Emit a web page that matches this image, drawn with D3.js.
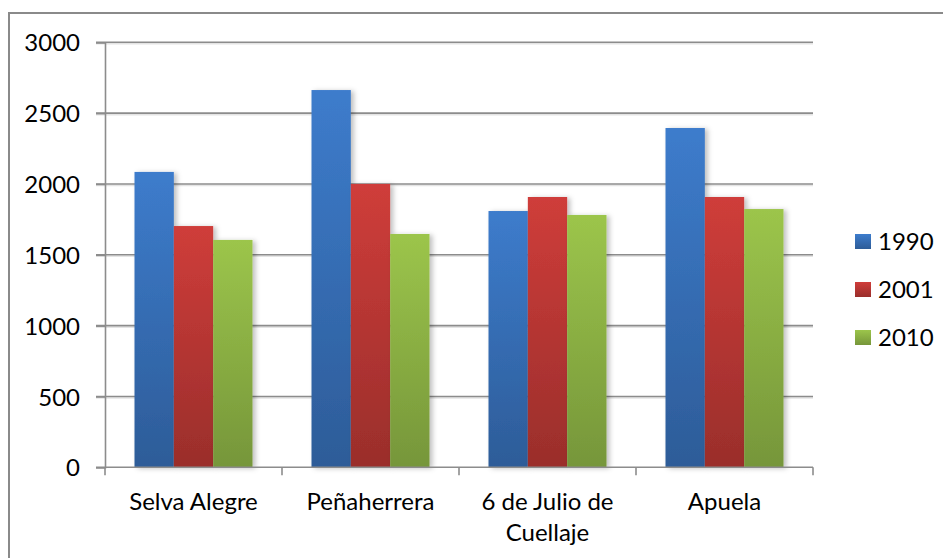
<!DOCTYPE html>
<html><head><meta charset="utf-8">
<script src="https://cdn.jsdelivr.net/npm/d3@7"></script>
<style>body{margin:0;background:#fff}svg{display:block}</style>
</head><body>
<svg id="c" width="943" height="558"></svg>
<script>
const categories = [["Selva Alegre"], ["Peñaherrera"], ["6 de Julio de", "Cuellaje"], ["Apuela"]];
const seriesNames = ["1990", "2001", "2010"];
const v1990 = [2085, 2663, 1809, 2395];
const v2001 = [1703, 2000, 1908, 1908];
const v2010 = [1605, 1647, 1781, 1823];
const yTicks = [0, 500, 1000, 1500, 2000, 2500, 3000];

const series = [v1990, v2001, v2010];
const colors = [
  {top: "#3d7ccc", bot: "#2d5c98"},
  {top: "#cf3d3a", bot: "#9a2e2b"},
  {top: "#9cc54b", bot: "#76963a"}
];
const font = "Lato, 'Open Sans', sans-serif";

const svg = d3.select("#c");
const defs = svg.append("defs");
colors.forEach((c, i) => {
  const g = defs.append("linearGradient").attr("id", "g" + i)
    .attr("x1", 0).attr("y1", 0).attr("x2", 0).attr("y2", 1);
  g.append("stop").attr("offset", "0%").attr("stop-color", c.top);
  g.append("stop").attr("offset", "100%").attr("stop-color", c.bot);
});
const f = defs.append("filter").attr("id", "sh").attr("x", "-20%").attr("y", "-10%").attr("width", "150%").attr("height", "130%");
f.append("feDropShadow").attr("dx", 3).attr("dy", 1).attr("stdDeviation", 2.5).attr("flood-color", "#000").attr("flood-opacity", 0.25);

// outer frame
svg.append("rect").attr("x", 9).attr("y", 13).attr("width", 960).attr("height", 600)
  .attr("fill", "none").attr("stroke", "#8a8a8a").attr("stroke-width", 2);

const x0 = 105, x1 = 813, yTop = 42.3, yBot = 467.3;
const x = d3.scaleBand().domain(d3.range(categories.length)).range([x0, x1])
  .paddingInner(1/3).paddingOuter(1/6);
const xs = d3.scaleBand().domain(d3.range(series.length)).range([0, x.bandwidth()]);
const y = d3.scaleLinear().domain([0, 3000]).range([yBot, yTop]);

// gridlines
const grid = svg.append("g");
yTicks.filter(t => t > 0).forEach(t => {
  grid.append("line").attr("x1", x0 - 9).attr("x2", x1).attr("y1", y(t) + 1.5).attr("y2", y(t) + 1.5)
    .attr("stroke", "#e4e4e4").attr("stroke-width", 1.5);
  grid.append("line").attr("x1", x0 - 9).attr("x2", x1).attr("y1", y(t)).attr("y2", y(t))
    .attr("stroke", "#8c8c8c").attr("stroke-width", 1.6);
});

// bars
const bars = svg.append("g");
series.forEach((s, si) => {
  bars.selectAll(null).data(s).enter().append("rect")
    .attr("x", (d, i) => x(i) + xs(si))
    .attr("y", d => y(d))
    .attr("width", xs.bandwidth())
    .attr("height", d => y(0) - y(d))
    .attr("fill", "url(#g" + si + ")")
    .attr("filter", "url(#sh)");
});

// y axis
const yAxis = svg.append("g").attr("transform", `translate(${x0},0)`)
  .call(d3.axisLeft(y).tickValues(yTicks).tickSize(9).tickPadding(16).tickFormat(d3.format("d")));
yAxis.select(".domain").attr("stroke", "#8c8c8c").attr("stroke-width", 1.6);
yAxis.selectAll(".tick line").attr("stroke", "#8c8c8c").attr("stroke-width", 1.6);
yAxis.selectAll(".tick text").attr("font-family", font).attr("font-size", 24).attr("fill", "#000").attr("dy", "0.36em");

// x axis
const xAxis = svg.append("g").attr("transform", `translate(0,${yBot})`);
xAxis.append("line").attr("x1", x0 - 9).attr("x2", x1).attr("y1", 0).attr("y2", 0)
  .attr("stroke", "#8c8c8c").attr("stroke-width", 1.6);
const bounds = d3.range(categories.length + 1).map(i => i < categories.length ? x(i) - x.step() * x.paddingInner() / 2 : x1);
bounds.forEach(b => {
  xAxis.append("line").attr("x1", b).attr("x2", b).attr("y1", 0).attr("y2", 8)
    .attr("stroke", "#8c8c8c").attr("stroke-width", 1.6);
});
categories.forEach((lines, i) => {
  const t = xAxis.append("text").attr("x", x(i) + x.bandwidth() / 2).attr("y", 43)
    .attr("text-anchor", "middle").attr("font-family", font).attr("font-size", 24).attr("fill", "#000");
  lines.forEach((l, li) => t.append("tspan").attr("x", x(i) + x.bandwidth() / 2).attr("dy", li === 0 ? 0 : 31).text(l));
});

// legend
const leg = svg.append("g");
seriesNames.forEach((n, i) => {
  const yy = 234 + i * 48;
  leg.append("rect").attr("x", 855).attr("y", yy).attr("width", 16).attr("height", 15).attr("fill", "url(#g" + i + ")");
  leg.append("text").attr("x", 878).attr("y", yy + 16).attr("font-family", font).attr("font-size", 24)
    .attr("fill", "#000").text(n);
});
</script>
</body></html>
